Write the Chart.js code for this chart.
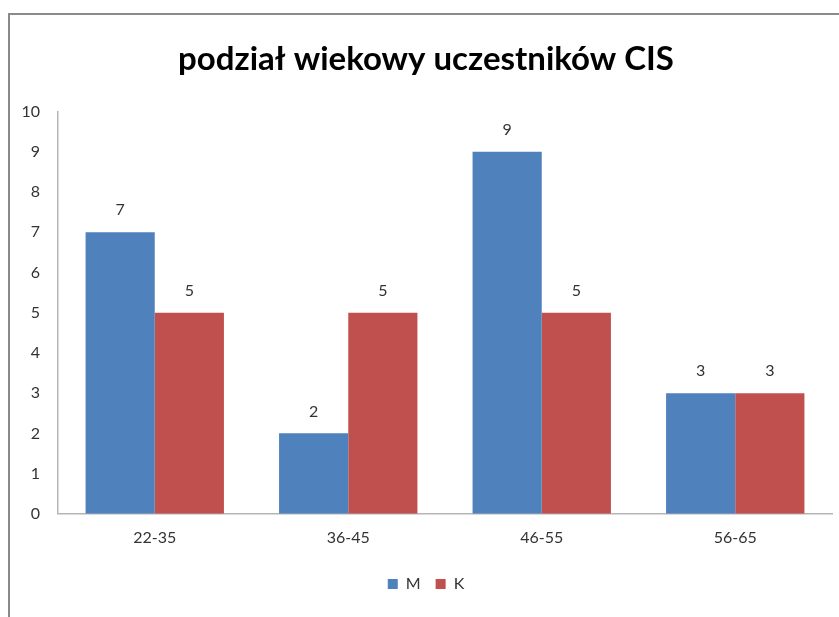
<!DOCTYPE html>
<html>
<head>
<meta charset="utf-8">
<script src="https://cdn.jsdelivr.net/npm/chart.js@4"></script>
<style>
  html, body { margin: 0; padding: 0; background: #fff; overflow: hidden; }
  #wrap { position: absolute; left: 0; top: 0; width: 839px; height: 617px; }
  #frame { position: absolute; left: 8px; top: 13px; width: 900px; height: 700px;
           border-left: 2px solid #8a8a8a; border-top: 2px solid #8a8a8a; pointer-events: none; }
</style>
</head>
<body>
<div id="wrap"><canvas id="chart" width="839" height="617"></canvas></div>
<div id="frame"></div>
<script>
  // ---------- data ----------
  const categories = ["22-35", "36-45", "46-55", "56-65"];
  const seriesM = [7, 2, 9, 3];
  const seriesK = [5, 5, 5, 3];
  const yTicks = [0, 1, 2, 3, 4, 5, 6, 7, 8, 9, 10];

  const FONT = "Lato, 'Open Sans', sans-serif";
  const TEXT = "#333333";

  // value labels above each bar
  const barValues = {
    id: "barValues",
    afterDatasetsDraw(chart) {
      const ctx = chart.ctx;
      ctx.save();
      ctx.font = "16px " + FONT;
      ctx.fillStyle = TEXT;
      ctx.textAlign = "center";
      ctx.textBaseline = "middle";
      chart.data.datasets.forEach((ds, i) => {
        chart.getDatasetMeta(i).data.forEach((bar, j) => {
          ctx.fillText(ds.data[j], bar.x, bar.y - 22);
        });
      });
      ctx.restore();
    },
  };

  new Chart(document.getElementById("chart"), {
    type: "bar",
    data: {
      labels: categories,
      datasets: [
        { label: "M", data: seriesM, backgroundColor: "#4f81bd" },
        { label: "K", data: seriesK, backgroundColor: "#c0504d" },
      ],
    },
    options: {
      responsive: false,
      animation: false,
      layout: { padding: { left: 20, right: 7, top: 0, bottom: 15 } },
      datasets: { bar: { categoryPercentage: 0.715, barPercentage: 1.0 } },
      plugins: {
        title: {
          display: true,
          text: "podział wiekowy uczestników CIS",
          color: "#000",
          font: { family: FONT, size: 33, weight: "bold" },
          padding: { top: 40, bottom: 32 },
        },
        legend: {
          position: "bottom",
          labels: {
            color: TEXT,
            font: { family: FONT, size: 16 },
            boxWidth: 10,
            boxHeight: 10,
            padding: 15,
          },
        },
        tooltip: { enabled: false },
      },
      scales: {
        x: {
          grid: { display: false, drawTicks: false },
          border: { color: "#b5b5b5", width: 1.5 },
          ticks: { color: TEXT, font: { family: FONT, size: 16 }, padding: 14 },
        },
        y: {
          min: 0,
          max: 10,
          afterBuildTicks: (s) => { s.ticks = yTicks.map((v) => ({ value: v })); },
          afterFit: (s) => { s.width = 38; },
          grid: { display: false, drawTicks: false },
          border: { color: "#b5b5b5", width: 1.5 },
          ticks: { color: TEXT, font: { family: FONT, size: 16 }, padding: 18 },
        },
      },
    },
    plugins: [barValues],
  });
</script>
</body>
</html>
